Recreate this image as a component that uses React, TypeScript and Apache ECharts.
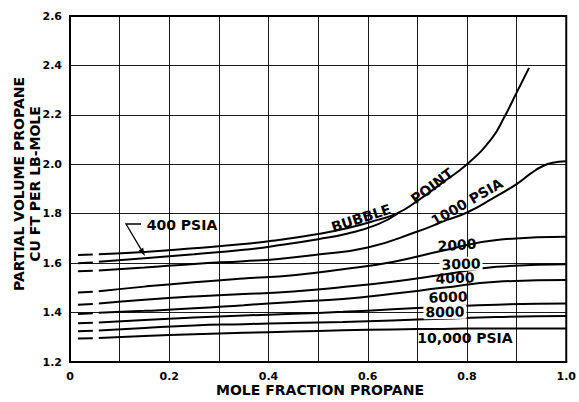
import React, { useEffect, useRef } from "react";
import * as echarts from "echarts";

// ---- data ----
const xTickLabels = ["0", "0.2", "0.4", "0.6", "0.8", "1.0"];

const bubbleX = [0.058, 0.15, 0.25, 0.35, 0.42, 0.5, 0.56, 0.62, 0.66, 0.7, 0.75, 0.8, 0.85, 0.875, 0.9, 0.925];
const bubbleY = [1.636, 1.645, 1.66, 1.677, 1.694, 1.718, 1.742, 1.775, 1.802, 1.852, 1.925, 2.0, 2.105, 2.19, 2.29, 2.39];

const p400X = [0.058, 0.15, 0.25, 0.35, 0.42, 0.5, 0.56, 0.62, 0.66];
const p400Y = [1.606, 1.62, 1.636, 1.654, 1.672, 1.697, 1.72, 1.757, 1.8];

const p1000X = [0.058, 0.15, 0.25, 0.35, 0.42, 0.5, 0.6, 0.7, 0.76, 0.8, 0.85, 0.9, 0.93, 0.95, 0.97, 1.0];
const p1000Y = [1.57, 1.582, 1.597, 1.608, 1.617, 1.635, 1.663, 1.728, 1.775, 1.805, 1.86, 1.92, 1.965, 1.99, 2.005, 2.012];

const highX = [0.058, 0.15, 0.25, 0.35, 0.45, 0.55, 0.65, 0.75, 0.86, 1.0];
const p2000Y = [1.486, 1.505, 1.523, 1.538, 1.551, 1.575, 1.605, 1.65, 1.694, 1.707];
const p3000Y = [1.437, 1.452, 1.465, 1.475, 1.485, 1.503, 1.525, 1.553, 1.585, 1.596];
const p4000Y = [1.399, 1.407, 1.417, 1.43, 1.443, 1.455, 1.476, 1.5, 1.525, 1.532];
const p6000Y = [1.36, 1.37, 1.38, 1.388, 1.395, 1.403, 1.413, 1.423, 1.432, 1.437];
const p8000Y = [1.327, 1.338, 1.348, 1.353, 1.358, 1.362, 1.368, 1.375, 1.382, 1.386];
const p10000Y = [1.297, 1.305, 1.312, 1.318, 1.323, 1.328, 1.332, 1.334, 1.336, 1.336];

// short extrapolated dashes at the left end of each curve
const dashX = [0.016, 0.046];
const bubbleDash = [1.633, 1.635];
const p400Dash = [1.6, 1.603];
const p1000Dash = [1.567, 1.569];
const p2000Dash = [1.481, 1.484];
const p3000Dash = [1.432, 1.435];
const p4000Dash = [1.394, 1.397];
const p6000Dash = [1.357, 1.359];
const p8000Dash = [1.324, 1.326];
const p10000Dash = [1.295, 1.296];

const curves = [
  { name: "BUBBLE POINT", x: bubbleX, y: bubbleY, d: bubbleDash },
  { name: "400 PSIA", x: p400X, y: p400Y, d: p400Dash },
  { name: "1000 PSIA", x: p1000X, y: p1000Y, d: p1000Dash },
  { name: "2000", x: highX, y: p2000Y, d: p2000Dash },
  { name: "3000", x: highX, y: p3000Y, d: p3000Dash },
  { name: "4000", x: highX, y: p4000Y, d: p4000Dash },
  { name: "6000", x: highX, y: p6000Y, d: p6000Dash },
  { name: "8000", x: highX, y: p8000Y, d: p8000Dash },
  { name: "10,000 PSIA", x: highX, y: p10000Y, d: p10000Dash },
];

const FONT = '"DejaVu Sans", sans-serif';

function label(text: string, x: number, y: number, deg: number, bg = false) {
  return {
    type: "text",
    x,
    y,
    rotation: (deg * Math.PI) / 180,
    z: 10,
    style: {
      text,
      fill: "#000",
      fontSize: 14,
      fontWeight: "bold",
      fontFamily: FONT,
      align: "center",
      verticalAlign: "middle",
      backgroundColor: bg ? "#fff" : "transparent",
      padding: bg ? [0, 2] : 0,
    },
  };
}

export default function App() {
  const ref = useRef<HTMLDivElement>(null);

  useEffect(() => {
    document.body.style.margin = "0";
    if (!ref.current) return;
    const chart = echarts.init(ref.current, undefined, { renderer: "svg" });

    const series: any[] = [];
    curves.forEach((c) => {
      series.push({
        type: "line",
        name: c.name,
        data: c.x.map((xx, i) => [xx, c.y[i]]),
        smooth: 0.5,
        showSymbol: false,
        silent: true,
        lineStyle: { color: "#000", width: 2 },
        z: 3,
      });
      series.push({
        type: "line",
        name: c.name + " dash",
        data: dashX.map((xx, i) => [xx, c.d[i]]),
        showSymbol: false,
        silent: true,
        lineStyle: { color: "#000", width: 2 },
        z: 3,
      });
    });

    // arrow for the 400 PSIA leader
    const tip = [145, 256];
    const start = [126, 224];
    const dx = tip[0] - start[0];
    const dy = tip[1] - start[1];
    const len = Math.hypot(dx, dy);
    const ux = dx / len;
    const uy = dy / len;
    const bx = tip[0] - 8 * ux;
    const by = tip[1] - 8 * uy;
    const px = -uy;
    const py = ux;

    chart.setOption({
      animation: false,
      grid: {
        left: 70,
        right: 10,
        top: 16,
        bottom: 40,
        show: true,
        borderColor: "#000",
        borderWidth: 2,
        backgroundColor: "#fff",
      },
      xAxis: {
        type: "value",
        min: 0,
        max: 1,
        interval: 0.1,
        axisLine: { show: true, lineStyle: { color: "#000", width: 2 } },
        axisTick: { show: false },
        splitLine: { show: true, lineStyle: { color: "#000", width: 0.9 } },
        axisLabel: {
          color: "#000",
          fontSize: 11,
          fontWeight: "bold",
          fontFamily: FONT,
          margin: 9,
          formatter: (v: number) => {
            const i = Math.round(v * 10);
            return i % 2 === 0 ? xTickLabels[i / 2] : "";
          },
        },
      },
      yAxis: {
        type: "value",
        min: 1.2,
        max: 2.6,
        interval: 0.2,
        axisLine: { show: true, lineStyle: { color: "#000", width: 2 } },
        axisTick: { show: false },
        splitLine: { show: true, lineStyle: { color: "#000", width: 0.9 } },
        axisLabel: {
          color: "#000",
          fontSize: 11,
          fontWeight: "bold",
          fontFamily: FONT,
          margin: 8,
          formatter: (v: number) => v.toFixed(1),
        },
      },
      series,
      graphic: [
        {
          type: "text",
          x: 19,
          y: 184,
          rotation: Math.PI / 2,
          style: {
            text: "PARTIAL VOLUME PROPANE",
            fill: "#000",
            fontSize: 14,
            fontWeight: "bold",
            fontFamily: FONT,
            align: "center",
            verticalAlign: "middle",
          },
        },
        {
          type: "text",
          x: 35,
          y: 184,
          rotation: Math.PI / 2,
          style: {
            text: "CU FT PER LB-MOLE",
            fill: "#000",
            fontSize: 14,
            fontWeight: "bold",
            fontFamily: FONT,
            align: "center",
            verticalAlign: "middle",
          },
        },
        {
          type: "text",
          x: 320,
          y: 390,
          style: {
            text: "MOLE FRACTION PROPANE",
            fill: "#000",
            fontSize: 14,
            fontWeight: "bold",
            fontFamily: FONT,
            align: "center",
            verticalAlign: "middle",
          },
        },
        label("400 PSIA", 182, 225, 0),
        label("BUBBLE", 361, 218, 18),
        label("POINT", 432, 186, 37),
        label("1000 PSIA", 467, 202, 30),
        label("2000", 457, 245, 4),
        label("3000", 461, 264, 2, true),
        label("4000", 455, 278, 2),
        label("6000", 448, 297, 2),
        label("8000", 445, 312, 1, true),
        label("10,000 PSIA", 465, 338, 0),
        {
          type: "polyline",
          z: 10,
          shape: { points: [[141, 224], start, [bx, by]] },
          style: { stroke: "#000", lineWidth: 1.3, fill: null },
        },
        {
          type: "polygon",
          z: 10,
          shape: {
            points: [
              tip,
              [bx + 2.6 * px, by + 2.6 * py],
              [bx - 2.6 * px, by - 2.6 * py],
            ],
          },
          style: { fill: "#000" },
        },
      ],
    });

    return () => chart.dispose();
  }, []);

  return <div ref={ref} style={{ width: 579, height: 402 }} />;
}
